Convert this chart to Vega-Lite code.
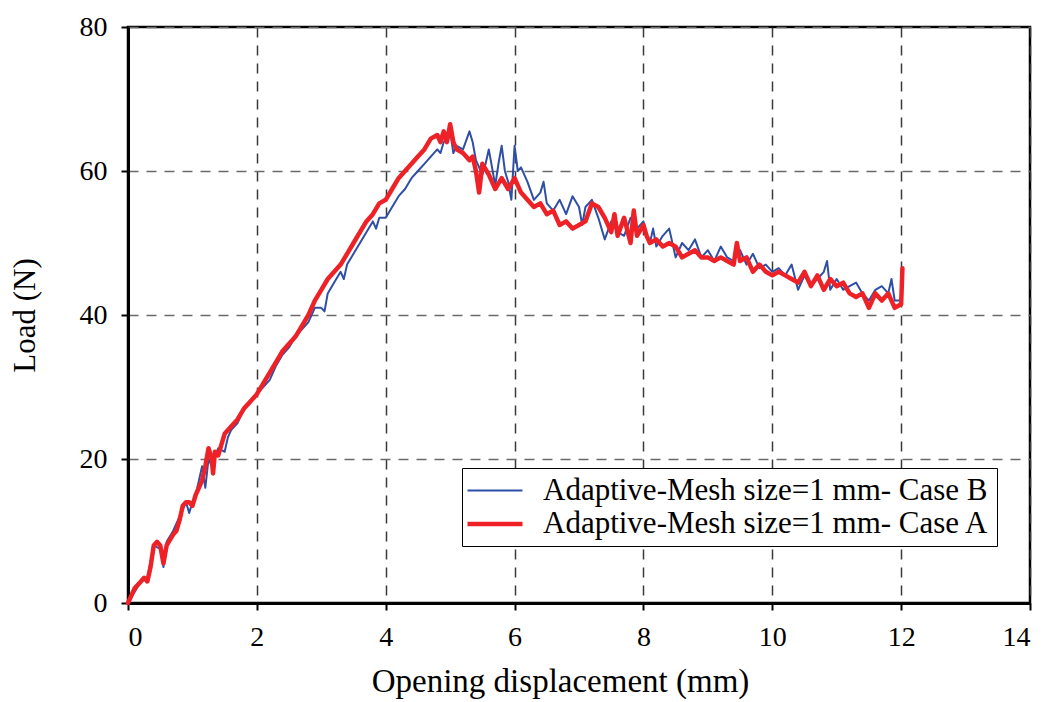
{
  "$schema": "https://vega.github.io/schema/vega-lite/v6.json",
  "width": 902,
  "height": 576,
  "autosize": "none",
  "padding": {"left": 128, "top": 27, "right": 19, "bottom": 99},
  "background": "white",
  "config": {
    "font": "Liberation Serif",
    "view": {"stroke": "black", "strokeWidth": 2.5},
    "axis": {
      "labelFont": "Liberation Serif",
      "titleFont": "Liberation Serif",
      "labelColor": "black",
      "titleColor": "black",
      "titleFontWeight": "normal",
      "domainColor": "black",
      "domainWidth": 3,
      "tickColor": "black",
      "tickWidth": 2,
      "tickSize": 7,
      "gridDash": [10, 8],
      "gridWidth": 1.5
    },
    "legend": {
      "labelFont": "Liberation Serif"
    }
  },
  "data": {
    "values": [
      {"x": 0, "y": 0, "s": "B"}, {"x": 0.1, "y": 1.5, "s": "B"}, {"x": 0.2, "y": 3, "s": "B"}, {"x": 0.3, "y": 3.5, "s": "B"}, {"x": 0.4, "y": 8, "s": "B"}, {"x": 0.5, "y": 7.5, "s": "B"}, {"x": 0.55, "y": 5, "s": "B"}, {"x": 0.6, "y": 8.5, "s": "B"}, {"x": 0.7, "y": 10, "s": "B"}, {"x": 0.8, "y": 12, "s": "B"}, {"x": 0.9, "y": 14, "s": "B"}, {"x": 0.95, "y": 12.5, "s": "B"}, {"x": 1.0, "y": 14, "s": "B"}, {"x": 1.05, "y": 15, "s": "B"}, {"x": 1.1, "y": 17, "s": "B"}, {"x": 1.15, "y": 19, "s": "B"}, {"x": 1.2, "y": 16, "s": "B"}, {"x": 1.25, "y": 20, "s": "B"}, {"x": 1.3, "y": 19, "s": "B"}, {"x": 1.4, "y": 21.5, "s": "B"}, {"x": 1.5, "y": 21, "s": "B"}, {"x": 1.55, "y": 23, "s": "B"}, {"x": 1.6, "y": 24, "s": "B"}, {"x": 1.7, "y": 25, "s": "B"}, {"x": 1.8, "y": 27, "s": "B"}, {"x": 1.9, "y": 28, "s": "B"}, {"x": 2.0, "y": 29, "s": "B"}, {"x": 2.1, "y": 30, "s": "B"}, {"x": 2.2, "y": 31, "s": "B"}, {"x": 2.3, "y": 33, "s": "B"}, {"x": 2.4, "y": 34.5, "s": "B"}, {"x": 2.5, "y": 35.5, "s": "B"}, {"x": 2.6, "y": 37, "s": "B"}, {"x": 2.7, "y": 38, "s": "B"}, {"x": 2.8, "y": 39, "s": "B"}, {"x": 2.9, "y": 41, "s": "B"}, {"x": 3.0, "y": 41, "s": "B"}, {"x": 3.05, "y": 40.5, "s": "B"}, {"x": 3.1, "y": 43, "s": "B"}, {"x": 3.2, "y": 44.5, "s": "B"}, {"x": 3.3, "y": 46, "s": "B"}, {"x": 3.35, "y": 45, "s": "B"}, {"x": 3.4, "y": 47, "s": "B"}, {"x": 3.5, "y": 48.5, "s": "B"}, {"x": 3.6, "y": 50, "s": "B"}, {"x": 3.7, "y": 51.5, "s": "B"}, {"x": 3.8, "y": 53, "s": "B"}, {"x": 3.85, "y": 52, "s": "B"}, {"x": 3.9, "y": 53.5, "s": "B"}, {"x": 4.0, "y": 53.5, "s": "B"}, {"x": 4.1, "y": 55, "s": "B"}, {"x": 4.2, "y": 56.5, "s": "B"}, {"x": 4.3, "y": 57.5, "s": "B"}, {"x": 4.4, "y": 59, "s": "B"}, {"x": 4.5, "y": 60, "s": "B"}, {"x": 4.6, "y": 61, "s": "B"}, {"x": 4.7, "y": 62, "s": "B"}, {"x": 4.8, "y": 63, "s": "B"}, {"x": 4.85, "y": 62.5, "s": "B"}, {"x": 4.9, "y": 64, "s": "B"}, {"x": 5.0, "y": 65.5, "s": "B"}, {"x": 5.05, "y": 62.5, "s": "B"}, {"x": 5.1, "y": 63.5, "s": "B"}, {"x": 5.2, "y": 63, "s": "B"}, {"x": 5.3, "y": 65.5, "s": "B"}, {"x": 5.35, "y": 64, "s": "B"}, {"x": 5.4, "y": 61.5, "s": "B"}, {"x": 5.5, "y": 59.5, "s": "B"}, {"x": 5.55, "y": 61, "s": "B"}, {"x": 5.6, "y": 63, "s": "B"}, {"x": 5.7, "y": 58, "s": "B"}, {"x": 5.75, "y": 61, "s": "B"}, {"x": 5.8, "y": 63.5, "s": "B"}, {"x": 5.85, "y": 60, "s": "B"}, {"x": 5.9, "y": 58.5, "s": "B"}, {"x": 5.95, "y": 56, "s": "B"}, {"x": 6.0, "y": 63.5, "s": "B"}, {"x": 6.05, "y": 60, "s": "B"}, {"x": 6.1, "y": 60.5, "s": "B"}, {"x": 6.2, "y": 58.5, "s": "B"}, {"x": 6.3, "y": 56, "s": "B"}, {"x": 6.4, "y": 57, "s": "B"}, {"x": 6.45, "y": 58.5, "s": "B"}, {"x": 6.5, "y": 55.5, "s": "B"}, {"x": 6.6, "y": 54.5, "s": "B"}, {"x": 6.7, "y": 56, "s": "B"}, {"x": 6.8, "y": 54, "s": "B"}, {"x": 6.9, "y": 56.5, "s": "B"}, {"x": 7.0, "y": 55, "s": "B"}, {"x": 7.05, "y": 52.5, "s": "B"}, {"x": 7.1, "y": 55, "s": "B"}, {"x": 7.2, "y": 56, "s": "B"}, {"x": 7.3, "y": 53.5, "s": "B"}, {"x": 7.4, "y": 50.5, "s": "B"}, {"x": 7.5, "y": 53, "s": "B"}, {"x": 7.6, "y": 51.5, "s": "B"}, {"x": 7.7, "y": 51, "s": "B"}, {"x": 7.8, "y": 53.5, "s": "B"}, {"x": 7.9, "y": 52, "s": "B"}, {"x": 8.0, "y": 53, "s": "B"}, {"x": 8.05, "y": 51, "s": "B"}, {"x": 8.1, "y": 50, "s": "B"}, {"x": 8.15, "y": 52, "s": "B"}, {"x": 8.2, "y": 49.5, "s": "B"}, {"x": 8.3, "y": 51, "s": "B"}, {"x": 8.4, "y": 52, "s": "B"}, {"x": 8.5, "y": 48, "s": "B"}, {"x": 8.6, "y": 50, "s": "B"}, {"x": 8.7, "y": 49, "s": "B"}, {"x": 8.8, "y": 50.5, "s": "B"}, {"x": 8.9, "y": 48, "s": "B"}, {"x": 9.0, "y": 49, "s": "B"}, {"x": 9.1, "y": 47.5, "s": "B"}, {"x": 9.2, "y": 49.5, "s": "B"}, {"x": 9.3, "y": 48, "s": "B"}, {"x": 9.4, "y": 47.5, "s": "B"}, {"x": 9.5, "y": 49, "s": "B"}, {"x": 9.6, "y": 47, "s": "B"}, {"x": 9.7, "y": 48.5, "s": "B"}, {"x": 9.8, "y": 46.5, "s": "B"}, {"x": 9.9, "y": 47, "s": "B"}, {"x": 10.0, "y": 46, "s": "B"}, {"x": 10.1, "y": 46.5, "s": "B"}, {"x": 10.2, "y": 45.5, "s": "B"}, {"x": 10.3, "y": 47, "s": "B"}, {"x": 10.4, "y": 43.5, "s": "B"}, {"x": 10.5, "y": 45.5, "s": "B"}, {"x": 10.6, "y": 44, "s": "B"}, {"x": 10.7, "y": 45, "s": "B"}, {"x": 10.8, "y": 46, "s": "B"}, {"x": 10.85, "y": 47.5, "s": "B"}, {"x": 10.9, "y": 43.5, "s": "B"}, {"x": 11.0, "y": 45, "s": "B"}, {"x": 11.1, "y": 43.5, "s": "B"}, {"x": 11.2, "y": 44, "s": "B"}, {"x": 11.3, "y": 44.5, "s": "B"}, {"x": 11.4, "y": 43, "s": "B"}, {"x": 11.5, "y": 42, "s": "B"}, {"x": 11.6, "y": 43.5, "s": "B"}, {"x": 11.7, "y": 44, "s": "B"}, {"x": 11.8, "y": 43, "s": "B"}, {"x": 11.85, "y": 45, "s": "B"}, {"x": 11.9, "y": 42, "s": "B"}, {"x": 12.0, "y": 42, "s": "B"},
      {"x": 0, "y": 0, "s": "A"}, {"x": 0.05, "y": 1, "s": "A"}, {"x": 0.1, "y": 2, "s": "A"}, {"x": 0.2, "y": 3, "s": "A"}, {"x": 0.25, "y": 3.5, "s": "A"}, {"x": 0.3, "y": 3, "s": "A"}, {"x": 0.35, "y": 5, "s": "A"}, {"x": 0.4, "y": 8, "s": "A"}, {"x": 0.45, "y": 8.5, "s": "A"}, {"x": 0.5, "y": 8, "s": "A"}, {"x": 0.55, "y": 5.5, "s": "A"}, {"x": 0.6, "y": 8, "s": "A"}, {"x": 0.7, "y": 9.5, "s": "A"}, {"x": 0.75, "y": 10, "s": "A"}, {"x": 0.8, "y": 11.5, "s": "A"}, {"x": 0.85, "y": 13.5, "s": "A"}, {"x": 0.9, "y": 14, "s": "A"}, {"x": 0.95, "y": 14, "s": "A"}, {"x": 1.0, "y": 13.5, "s": "A"}, {"x": 1.05, "y": 15, "s": "A"}, {"x": 1.1, "y": 16, "s": "A"}, {"x": 1.15, "y": 17, "s": "A"}, {"x": 1.2, "y": 19, "s": "A"}, {"x": 1.25, "y": 21.5, "s": "A"}, {"x": 1.3, "y": 20, "s": "A"}, {"x": 1.32, "y": 18, "s": "A"}, {"x": 1.35, "y": 21, "s": "A"}, {"x": 1.4, "y": 20.5, "s": "A"}, {"x": 1.45, "y": 22, "s": "A"}, {"x": 1.5, "y": 23.5, "s": "A"}, {"x": 1.6, "y": 24.5, "s": "A"}, {"x": 1.7, "y": 25.5, "s": "A"}, {"x": 1.8, "y": 27, "s": "A"}, {"x": 1.9, "y": 28, "s": "A"}, {"x": 2.0, "y": 29, "s": "A"}, {"x": 2.1, "y": 30.5, "s": "A"}, {"x": 2.2, "y": 32, "s": "A"}, {"x": 2.3, "y": 33.5, "s": "A"}, {"x": 2.4, "y": 35, "s": "A"}, {"x": 2.5, "y": 36, "s": "A"}, {"x": 2.6, "y": 37, "s": "A"}, {"x": 2.7, "y": 38.5, "s": "A"}, {"x": 2.8, "y": 40, "s": "A"}, {"x": 2.9, "y": 42, "s": "A"}, {"x": 3.0, "y": 43.5, "s": "A"}, {"x": 3.1, "y": 45, "s": "A"}, {"x": 3.2, "y": 46, "s": "A"}, {"x": 3.3, "y": 47, "s": "A"}, {"x": 3.4, "y": 48.5, "s": "A"}, {"x": 3.5, "y": 50, "s": "A"}, {"x": 3.6, "y": 51.5, "s": "A"}, {"x": 3.7, "y": 53, "s": "A"}, {"x": 3.8, "y": 54, "s": "A"}, {"x": 3.9, "y": 55.5, "s": "A"}, {"x": 4.0, "y": 56, "s": "A"}, {"x": 4.1, "y": 57.5, "s": "A"}, {"x": 4.2, "y": 59, "s": "A"}, {"x": 4.3, "y": 60, "s": "A"}, {"x": 4.4, "y": 61, "s": "A"}, {"x": 4.5, "y": 62, "s": "A"}, {"x": 4.6, "y": 63, "s": "A"}, {"x": 4.7, "y": 64.5, "s": "A"}, {"x": 4.8, "y": 65, "s": "A"}, {"x": 4.85, "y": 64, "s": "A"}, {"x": 4.9, "y": 65.5, "s": "A"}, {"x": 4.95, "y": 64, "s": "A"}, {"x": 5.0, "y": 66.5, "s": "A"}, {"x": 5.05, "y": 64, "s": "A"}, {"x": 5.1, "y": 63, "s": "A"}, {"x": 5.2, "y": 62.5, "s": "A"}, {"x": 5.3, "y": 61.5, "s": "A"}, {"x": 5.35, "y": 62, "s": "A"}, {"x": 5.4, "y": 60, "s": "A"}, {"x": 5.45, "y": 57, "s": "A"}, {"x": 5.5, "y": 61, "s": "A"}, {"x": 5.6, "y": 59.5, "s": "A"}, {"x": 5.7, "y": 57.5, "s": "A"}, {"x": 5.8, "y": 59, "s": "A"}, {"x": 5.9, "y": 57.5, "s": "A"}, {"x": 6.0, "y": 59, "s": "A"}, {"x": 6.1, "y": 57, "s": "A"}, {"x": 6.2, "y": 56, "s": "A"}, {"x": 6.3, "y": 55, "s": "A"}, {"x": 6.4, "y": 55.5, "s": "A"}, {"x": 6.5, "y": 54, "s": "A"}, {"x": 6.6, "y": 54.5, "s": "A"}, {"x": 6.7, "y": 52.5, "s": "A"}, {"x": 6.8, "y": 53, "s": "A"}, {"x": 6.9, "y": 52, "s": "A"}, {"x": 7.0, "y": 52.5, "s": "A"}, {"x": 7.1, "y": 53, "s": "A"}, {"x": 7.2, "y": 55.5, "s": "A"}, {"x": 7.3, "y": 55, "s": "A"}, {"x": 7.4, "y": 53.5, "s": "A"}, {"x": 7.5, "y": 51.5, "s": "A"}, {"x": 7.55, "y": 54, "s": "A"}, {"x": 7.6, "y": 51, "s": "A"}, {"x": 7.7, "y": 53.5, "s": "A"}, {"x": 7.8, "y": 50, "s": "A"}, {"x": 7.85, "y": 54.5, "s": "A"}, {"x": 7.9, "y": 51, "s": "A"}, {"x": 8.0, "y": 52.5, "s": "A"}, {"x": 8.05, "y": 51, "s": "A"}, {"x": 8.1, "y": 50, "s": "A"}, {"x": 8.2, "y": 50.5, "s": "A"}, {"x": 8.3, "y": 49.5, "s": "A"}, {"x": 8.4, "y": 50, "s": "A"}, {"x": 8.5, "y": 49.5, "s": "A"}, {"x": 8.6, "y": 48, "s": "A"}, {"x": 8.7, "y": 48.5, "s": "A"}, {"x": 8.8, "y": 49, "s": "A"}, {"x": 8.9, "y": 48, "s": "A"}, {"x": 9.0, "y": 48, "s": "A"}, {"x": 9.1, "y": 47.5, "s": "A"}, {"x": 9.2, "y": 48, "s": "A"}, {"x": 9.3, "y": 47.5, "s": "A"}, {"x": 9.4, "y": 47, "s": "A"}, {"x": 9.45, "y": 50, "s": "A"}, {"x": 9.5, "y": 47.5, "s": "A"}, {"x": 9.6, "y": 48, "s": "A"}, {"x": 9.7, "y": 46, "s": "A"}, {"x": 9.8, "y": 47, "s": "A"}, {"x": 9.9, "y": 46, "s": "A"}, {"x": 10.0, "y": 45.5, "s": "A"}, {"x": 10.1, "y": 46, "s": "A"}, {"x": 10.2, "y": 45.5, "s": "A"}, {"x": 10.3, "y": 45, "s": "A"}, {"x": 10.4, "y": 44.5, "s": "A"}, {"x": 10.5, "y": 46, "s": "A"}, {"x": 10.6, "y": 44, "s": "A"}, {"x": 10.7, "y": 45.5, "s": "A"}, {"x": 10.8, "y": 43.5, "s": "A"}, {"x": 10.9, "y": 45, "s": "A"}, {"x": 11.0, "y": 44, "s": "A"}, {"x": 11.1, "y": 44.5, "s": "A"}, {"x": 11.2, "y": 43, "s": "A"}, {"x": 11.3, "y": 42.5, "s": "A"}, {"x": 11.4, "y": 43, "s": "A"}, {"x": 11.5, "y": 41, "s": "A"}, {"x": 11.6, "y": 43, "s": "A"}, {"x": 11.7, "y": 42, "s": "A"}, {"x": 11.8, "y": 43, "s": "A"}, {"x": 11.9, "y": 41, "s": "A"}, {"x": 12.0, "y": 41.5, "s": "A"}, {"x": 12.02, "y": 46.5, "s": "A"}
    ]
  },
  "encoding": {
    "x": {
      "field": "x", "type": "quantitative",
      "scale": {"domain": [0, 14], "nice": false},
      "axis": {
        "values": [0, 2, 4, 6, 8, 10, 12, 14],
        "title": "Opening displacement (mm)",
        "labelFontSize": 28, "titleFontSize": 33,
        "labelPadding": 13, "titlePadding": 14,
        "titleX": 432,
        "gridColor": "#3a3a3a"
      }
    },
    "y": {
      "field": "y", "type": "quantitative",
      "scale": {"domain": [0, 80], "nice": false},
      "axis": {
        "values": [0, 20, 40, 60, 80],
        "title": "Load (N)",
        "labelFontSize": 28, "titleFontSize": 31,
        "labelPadding": 14, "titlePadding": 38,
        "gridColor": "#6a6a6a"
      }
    },
    "color": {
      "field": "s", "type": "nominal",
      "scale": {"domain": ["B", "A"], "range": ["#2f4fa6", "#ee2226"]},
      "legend": {
        "title": null,
        "orient": "none",
        "legendX": 334,
        "legendY": 441,
        "labelExpr": "datum.value == 'B' ? 'Adaptive-Mesh size=1 mm- Case B' : 'Adaptive-Mesh size=1 mm- Case A'",
        "labelFont": "Liberation Serif",
        "labelFontSize": 31,
        "labelLimit": 0,
        "labelColor": "black",
        "symbolType": "M-2,0H2",
        "symbolSize": 756,
        "symbolOffset": 10,
        "labelOffset": 32,
        "padding": 7,
        "rowPadding": 2,
        "strokeColor": "black",
        "fillColor": "white"
      }
    },
    "strokeWidth": {
      "field": "s", "type": "nominal",
      "scale": {"domain": ["B", "A"], "range": [2, 4.5]},
      "legend": {
        "title": null,
        "orient": "none",
        "legendX": 334,
        "legendY": 441,
        "labelExpr": "datum.value == 'B' ? 'Adaptive-Mesh size=1 mm- Case B' : 'Adaptive-Mesh size=1 mm- Case A'",
        "labelFont": "Liberation Serif",
        "labelFontSize": 31,
        "labelLimit": 0,
        "labelColor": "black",
        "symbolType": "M-2,0H2",
        "symbolSize": 756,
        "symbolOffset": 10,
        "labelOffset": 32,
        "padding": 7,
        "rowPadding": 2,
        "strokeColor": "black",
        "fillColor": "white"
      }
    }
  },
  "layer": [
    {"transform": [{"filter": "datum.s == 'B'"}], "mark": {"type": "line", "strokeJoin": "round"}},
    {"transform": [{"filter": "datum.s == 'A'"}], "mark": {"type": "line", "strokeJoin": "round", "strokeCap": "round"}}
  ]
}
